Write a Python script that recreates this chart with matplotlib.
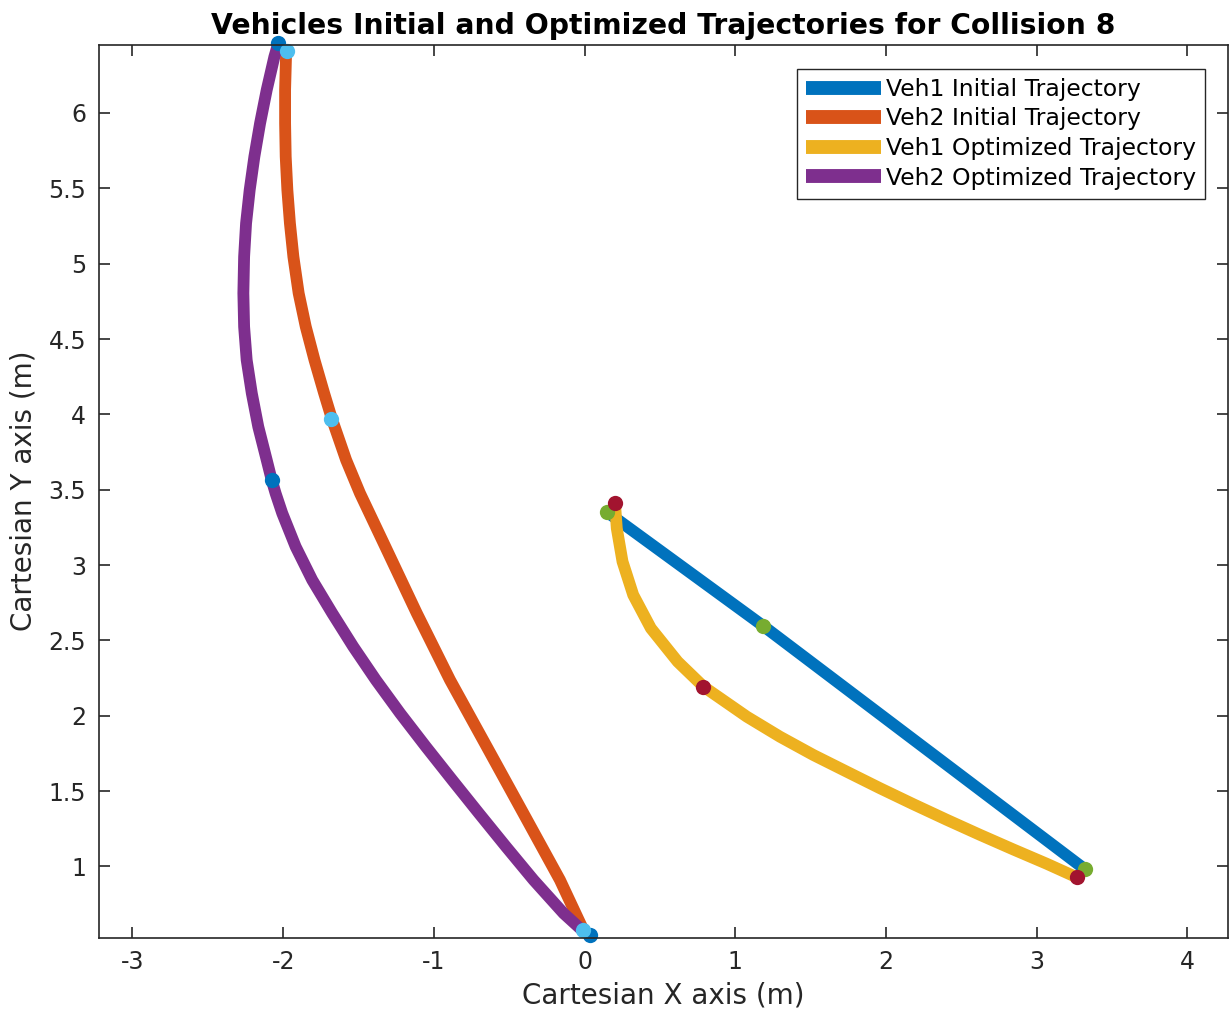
import matplotlib
matplotlib.use("Agg")
import matplotlib.pyplot as plt

# Veh1 initial trajectory (straight) and its optimized version
veh1_init_x = [0.147, 1.186, 3.321]
veh1_init_y = [3.354, 2.596, 0.981]
veh1_opt_x = [0.202, 0.214, 0.252, 0.323, 0.440, 0.618, 0.790, 1.077, 1.297, 1.518,
              1.740, 1.961, 2.182, 2.403, 2.624, 2.845, 3.067, 3.266]
veh1_opt_y = [3.410, 3.244, 3.023, 2.802, 2.581, 2.359, 2.193, 1.994, 1.861, 1.740,
              1.629, 1.519, 1.413, 1.310, 1.210, 1.113, 1.018, 0.928]

# Veh2 initial and optimized trajectories
veh2_init_x = [-1.976, -1.981, -1.987, -1.987, -1.983, -1.972, -1.955, -1.932, -1.897, -1.850,
               -1.792, -1.728, -1.677, -1.582, -1.490, -1.322, -1.113, -0.893, -0.649, -0.406,
               -0.163, -0.008]
veh2_init_y = [6.413, 6.374, 6.153, 5.932, 5.710, 5.489, 5.268, 5.046, 4.804, 4.582,
               4.361, 4.140, 3.972, 3.697, 3.476, 3.122, 2.680, 2.238, 1.795, 1.353,
               0.910, 0.579]
veh2_opt_x = [-2.032, -2.058, -2.109, -2.153, -2.191, -2.222, -2.246, -2.259, -2.264, -2.259,
              -2.242, -2.208, -2.165, -2.109, -2.076, -2.050, -2.006, -1.917, -1.807, -1.674,
              -1.535, -1.385, -1.224, -1.053, -0.878, -0.701, -0.521, -0.338, -0.139, -0.025]
veh2_opt_y = [6.462, 6.374, 6.153, 5.932, 5.710, 5.489, 5.268, 5.046, 4.804, 4.582,
              4.361, 4.140, 3.918, 3.697, 3.565, 3.476, 3.344, 3.122, 2.901, 2.680,
              2.459, 2.238, 2.017, 1.795, 1.574, 1.353, 1.131, 0.910, 0.689, 0.585]

# start / middle / end points of each trajectory
veh1_init_pts_x = [0.147, 1.186, 3.321]
veh1_init_pts_y = [3.354, 2.596, 0.981]
veh1_opt_pts_x = [0.202, 0.788, 3.266]
veh1_opt_pts_y = [3.410, 2.193, 0.928]
veh2_init_pts_x = [-1.976, -1.682, -0.008]
veh2_init_pts_y = [6.413, 3.972, 0.579]
veh2_opt_pts_x = [-2.032, -2.076, 0.036]
veh2_opt_pts_y = [6.462, 3.565, 0.545]

labels = ["Veh1 Initial Trajectory", "Veh2 Initial Trajectory",
          "Veh1 Optimized Trajectory", "Veh2 Optimized Trajectory"]

plt.rcParams["font.family"] = "DejaVu Sans"
axis_col = "#262626"

fig = plt.figure(figsize=(12.29, 10.14), dpi=100)
ax = fig.add_axes([0.0803, 0.0752, 0.9189, 0.8807])

lw = 8.5
style = dict(lw=lw, solid_capstyle="butt", solid_joinstyle="round")
ax.plot(veh1_init_x, veh1_init_y, color="#0072BD", label=labels[0], **style)
ax.plot(veh2_init_x, veh2_init_y, color="#D95319", label=labels[1], **style)
ax.plot(veh1_opt_x, veh1_opt_y, color="#EDB120", label=labels[2], **style)
ax.plot(veh2_opt_x, veh2_opt_y, color="#7E2F8E", label=labels[3], **style)

ms = 11
ax.plot(veh1_init_pts_x, veh1_init_pts_y, "o", color="#77AC30", ms=ms, mew=0, clip_on=False)
ax.plot(veh1_opt_pts_x, veh1_opt_pts_y, "o", color="#A2142F", ms=ms, mew=0, clip_on=False)
ax.plot(veh2_opt_pts_x, veh2_opt_pts_y, "o", color="#0072BD", ms=ms, mew=0, clip_on=False)
ax.plot(veh2_init_pts_x, veh2_init_pts_y, "o", color="#4DBEEE", ms=ms, mew=0, clip_on=False)

ax.set_xlim(-3.224, 4.270)
ax.set_ylim(0.527, 6.453)
ax.set_xticks([-3, -2, -1, 0, 1, 2, 3, 4])
ax.set_xticklabels(["-3", "-2", "-1", "0", "1", "2", "3", "4"])
ax.set_yticks([1, 1.5, 2, 2.5, 3, 3.5, 4, 4.5, 5, 5.5, 6])
ax.set_yticklabels(["1", "1.5", "2", "2.5", "3", "3.5", "4", "4.5", "5", "5.5", "6"])

ax.tick_params(direction="in", length=8, width=1.2, colors=axis_col, labelsize=17,
               top=True, right=True, pad=9)
for sp in ax.spines.values():
    sp.set_color(axis_col)
    sp.set_linewidth(1.2)

ax.set_xlabel("Cartesian X axis (m)", fontsize=20, color=axis_col, labelpad=5)
ax.set_ylabel("Cartesian Y axis (m)", fontsize=20, color=axis_col, labelpad=8)
ax.set_title("Vehicles Initial and Optimized Trajectories for Collision 8",
             fontsize=20.3, fontweight="bold", pad=8)

leg = ax.legend(loc="upper right", bbox_to_anchor=(1205 / 1229, 1 - 69 / 1014),
                bbox_transform=fig.transFigure, fontsize=16.9, frameon=True,
                fancybox=False, framealpha=1, edgecolor=axis_col,
                handlelength=3.2, handletextpad=0.2, labelspacing=0.28,
                borderpad=0.38, borderaxespad=0)
leg.get_frame().set_linewidth(1.0)
for line in leg.get_lines():
    line.set_linewidth(10)

fig.savefig("out.png", dpi=100)
